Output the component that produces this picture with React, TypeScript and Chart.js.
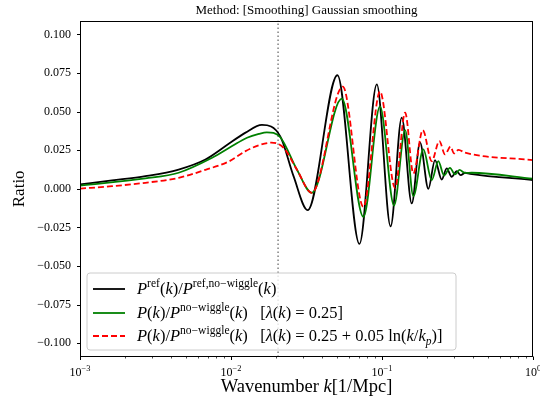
import React, { useEffect, useRef } from 'react';
import { Chart, registerables } from 'chart.js';

Chart.register(...registerables);

// ---- data ----
const refK = [0.001, 0.00163, 0.00271, 0.0045, 0.00677, 0.0092, 0.01248, 0.01603, 0.0212, 0.02595, 0.0322, 0.0507, 0.0709, 0.0924, 0.114, 0.1352, 0.1574, 0.1786, 0.2028, 0.2244, 0.2485, 0.2683, 0.2894, 0.3125, 0.332, 0.355, 0.383, 1];
const refRatio = [0.0028, 0.0054, 0.0082, 0.0125, 0.019, 0.0277, 0.0364, 0.0414, 0.034, 0.0082, -0.0138, 0.0736, -0.0357, 0.0677, -0.0243, 0.0461, -0.0095, 0.0299, 0.0, 0.0186, 0.006, 0.0132, 0.0078, 0.0114, 0.0088, 0.0104, 0.0097, 0.0057];

const constK = [0.001, 0.00271, 0.0045, 0.0075, 0.01017, 0.01277, 0.0153, 0.01726, 0.0212, 0.0273, 0.0343, 0.0542, 0.0753, 0.097, 0.1202, 0.1423, 0.1613, 0.1878, 0.2135, 0.236, 0.2574, 0.282, 0.3043, 0.326, 0.355, 0.3926, 1];
const constRatio = [0.0021, 0.0067, 0.0104, 0.0201, 0.0277, 0.0331, 0.0356, 0.0366, 0.0334, 0.0125, -0.0026, 0.0584, -0.0182, 0.0532, -0.0108, 0.038, -0.0048, 0.0255, 0.0056, 0.0179, 0.0086, 0.0136, 0.0093, 0.0122, 0.0103, 0.0104, 0.0065];

const runK = [0.001, 0.00163, 0.00271, 0.0045, 0.00677, 0.00967, 0.01248, 0.0153, 0.01847, 0.0223, 0.0273, 0.0343, 0.055, 0.0753, 0.097, 0.1221, 0.1423, 0.1613, 0.1862, 0.2135, 0.2397, 0.2614, 0.2842, 0.3, 0.321, 0.355, 1];
const runRatio = [0.0001, 0.0017, 0.0039, 0.0071, 0.0123, 0.0177, 0.0244, 0.0282, 0.0299, 0.0266, 0.0125, -0.0026, 0.0662, -0.0117, 0.063, 0.0006, 0.0494, 0.0099, 0.038, 0.0179, 0.0309, 0.0223, 0.0273, 0.0229, 0.0252, 0.0234, 0.0186];

const pivotK = 0.0205;
const xLimits = [0.001, 1];
const yLimits = [-0.109, 0.109];
const yTicks = [-0.1, -0.075, -0.05, -0.025, 0, 0.025, 0.05, 0.075, 0.1];
const xMajorTicks = [0.001, 0.01, 0.1, 1];
const xTickExponents = ['\u22123', '\u22122', '\u22121', '0'];
const titleText = 'Method: [Smoothing] Gaussian smoothing';

const FONT = '"Liberation Serif", "DejaVu Serif", serif';

type Seg = [string, string];

const legendRows: { color: string; dash: number[]; segs: Seg[] }[] = [
  {
    color: '#000000', dash: [],
    segs: [['P', 'i'], ['ref', 'sup'], ['(', 'r'], ['k', 'i'], [')/', 'r'], ['P', 'i'], ['ref,no\u2212wiggle', 'sup'], ['(', 'r'], ['k', 'i'], [')', 'r']],
  },
  {
    color: '#008000', dash: [],
    segs: [['P', 'i'], ['(', 'r'], ['k', 'i'], [')/', 'r'], ['P', 'i'], ['no\u2212wiggle', 'sup'], ['(', 'r'], ['k', 'i'], [')', 'r'], ['   [', 'r'], ['\u03bb', 'i'], ['(', 'r'], ['k', 'i'], [') = 0.25]', 'r']],
  },
  {
    color: '#ff0000', dash: [6, 3],
    segs: [['P', 'i'], ['(', 'r'], ['k', 'i'], [')/', 'r'], ['P', 'i'], ['no\u2212wiggle', 'sup'], ['(', 'r'], ['k', 'i'], [')', 'r'], ['   [', 'r'], ['\u03bb', 'i'], ['(', 'r'], ['k', 'i'], [') = 0.25 + 0.05 ln(', 'r'], ['k', 'i'], ['/', 'r'], ['k', 'i'], ['p', 'subi'], [')]', 'r']],
  },
];

function drawRich(ctx: CanvasRenderingContext2D, segs: Seg[], x: number, y: number, size: number, measureOnly = false): number {
  let cx = x;
  for (const [t, s] of segs) {
    const italic = s === 'i' || s === 'supi' || s === 'subi';
    const small = s.startsWith('sup') || s.startsWith('sub');
    const fs = small ? size * 0.7 : size;
    ctx.font = `${italic ? 'italic ' : ''}${fs}px ${FONT}`;
    const dy = s.startsWith('sup') ? -size * 0.4 : s.startsWith('sub') ? size * 0.22 : 0;
    if (!measureOnly) ctx.fillText(t, cx, y + dy);
    cx += ctx.measureText(t).width;
  }
  return cx - x;
}

const decorPlugin = {
  id: 'decor',
  afterDraw(chart: any) {
    const { ctx, chartArea: a, scales } = chart;
    const xs = scales.x;
    const ys = scales.y;
    ctx.save();
    ctx.strokeStyle = '#000';
    ctx.fillStyle = '#000';
    ctx.lineWidth = 1;
    ctx.setLineDash([]);
    const L = Math.round(a.left) + 0.5;
    const R = Math.round(a.right) - 0.5;
    const T = Math.round(a.top) + 0.5;
    const B = Math.round(a.bottom) - 0.5;
    ctx.strokeRect(L, T, R - L, B - T);
    ctx.beginPath();
    for (const v of yTicks) {
      const py = Math.round(ys.getPixelForValue(v)) + 0.5;
      ctx.moveTo(L - 3.5, py);
      ctx.lineTo(L, py);
    }
    for (const v of xMajorTicks) {
      const px = Math.round(xs.getPixelForValue(v)) + 0.5;
      ctx.moveTo(px, B);
      ctx.lineTo(px, B + 3.5);
    }
    ctx.stroke();
    ctx.beginPath();
    ctx.lineWidth = 0.7;
    for (let d = 0; d < xMajorTicks.length - 1; d++) {
      for (let m = 2; m <= 9; m++) {
        const px = Math.round(xs.getPixelForValue(xMajorTicks[d] * m)) + 0.5;
        ctx.moveTo(px, B);
        ctx.lineTo(px, B + 2);
      }
    }
    ctx.stroke();

    // x tick labels with superscript exponents
    ctx.textBaseline = 'alphabetic';
    ctx.textAlign = 'left';
    xMajorTicks.forEach((v, i) => {
      const px = xs.getPixelForValue(v);
      const segs: Seg[] = [['10', 'r'], [xTickExponents[i], 'sup']];
      const w = drawRich(ctx, segs, 0, 0, 12, true);
      drawRich(ctx, segs, px - w / 2, B + 19, 12);
    });

    // axis titles
    const xt: Seg[] = [['Wavenumber ', 'r'], ['k', 'i'], ['[1/Mpc]', 'r']];
    const wx = drawRich(ctx, xt, 0, 0, 18.5, true);
    drawRich(ctx, xt, (a.left + a.right) / 2 - wx / 2, B + 35, 18.5);

    ctx.save();
    ctx.translate(20, (a.top + a.bottom) / 2);
    ctx.rotate(-Math.PI / 2);
    ctx.textAlign = 'center';
    ctx.textBaseline = 'middle';
    ctx.font = `17px ${FONT}`;
    ctx.fillText('Ratio', 0, 0);
    ctx.restore();

    // legend
    const lx = a.left + 7;
    const lw = 369;
    const lh = 77;
    const ly = a.bottom - 7 - lh;
    ctx.beginPath();
    const r = 3;
    ctx.moveTo(lx + r, ly);
    ctx.lineTo(lx + lw - r, ly);
    ctx.quadraticCurveTo(lx + lw, ly, lx + lw, ly + r);
    ctx.lineTo(lx + lw, ly + lh - r);
    ctx.quadraticCurveTo(lx + lw, ly + lh, lx + lw - r, ly + lh);
    ctx.lineTo(lx + r, ly + lh);
    ctx.quadraticCurveTo(lx, ly + lh, lx, ly + lh - r);
    ctx.lineTo(lx, ly + r);
    ctx.quadraticCurveTo(lx, ly, lx + r, ly);
    ctx.closePath();
    ctx.fillStyle = 'rgba(255,255,255,0.8)';
    ctx.fill();
    ctx.strokeStyle = '#cccccc';
    ctx.lineWidth = 1;
    ctx.stroke();

    const rowYs = [ly + 16, ly + 40, ly + 63];
    legendRows.forEach((row, i) => {
      const yy = rowYs[i];
      ctx.beginPath();
      ctx.strokeStyle = row.color;
      ctx.lineWidth = 1.8;
      ctx.setLineDash(row.dash);
      ctx.moveTo(lx + 6, yy);
      ctx.lineTo(lx + 38, yy);
      ctx.stroke();
      ctx.setLineDash([]);
      ctx.fillStyle = '#000';
      drawRich(ctx, row.segs, lx + 50, yy + 5, 16.5);
    });
    ctx.restore();
  },
};

export default function App() {
  const canvasRef = useRef<HTMLCanvasElement | null>(null);

  useEffect(() => {
    document.body.style.margin = '0';
    const canvas = canvasRef.current;
    if (!canvas) return;
    const toPts = (xs: number[], ys: number[]) => xs.map((x, i) => ({ x, y: ys[i] }));
    const chart = new Chart(canvas, {
      type: 'line',
      data: {
        datasets: [
          {
            data: toPts(runK, runRatio),
            borderColor: '#ff0000',
            borderWidth: 1.8,
            borderDash: [6, 3],
            pointRadius: 0,
            cubicInterpolationMode: 'monotone',
            fill: false,
            order: 1,
          },
          {
            data: toPts(constK, constRatio),
            borderColor: '#008000',
            borderWidth: 1.8,
            pointRadius: 0,
            cubicInterpolationMode: 'monotone',
            fill: false,
            order: 2,
          },
          {
            data: toPts(refK, refRatio),
            borderColor: '#000000',
            borderWidth: 1.8,
            pointRadius: 0,
            cubicInterpolationMode: 'monotone',
            fill: false,
            order: 3,
          },
          {
            data: [{ x: pivotK, y: yLimits[0] }, { x: pivotK, y: yLimits[1] }],
            borderColor: '#808080',
            borderWidth: 1.5,
            borderDash: [1.5, 2.5],
            pointRadius: 0,
            fill: false,
            order: 4,
          },
        ],
      },
      options: {
        animation: false,
        responsive: false,
        devicePixelRatio: 1,
        layout: { padding: { left: 0, right: 7, top: 0, bottom: 0 } },
        plugins: {
          legend: { display: false },
          tooltip: { enabled: false },
          title: {
            display: true,
            text: titleText,
            fullSize: false,
            color: '#000',
            font: { family: FONT, size: 13, weight: 'normal' },
            padding: { top: 3, bottom: 2 },
          },
        },
        scales: {
          x: {
            type: 'logarithmic',
            min: xLimits[0],
            max: xLimits[1],
            grid: { display: false, drawTicks: false },
            border: { display: false },
            ticks: { display: false },
            afterFit: (s: any) => {
              s.height = 46;
              s.paddingLeft = 0;
              s.paddingRight = 0;
            },
          },
          y: {
            type: 'linear',
            min: yLimits[0],
            max: yLimits[1],
            grid: { display: false, drawTicks: false },
            border: { display: false },
            afterBuildTicks: (s: any) => {
              s.ticks = yTicks.map((v) => ({ value: v }));
            },
            ticks: {
              padding: 9,
              color: '#000',
              font: { family: FONT, size: 12 },
              callback: (v: any) => Number(v).toFixed(3).replace('-', '\u2212'),
            },
            afterFit: (s: any) => {
              s.width = 80;
              s.paddingTop = 0;
              s.paddingBottom = 0;
            },
          },
        },
      },
      plugins: [decorPlugin],
    } as any);
    return () => chart.destroy();
  }, []);

  return (
    <div style={{ position: 'absolute', left: 0, top: 0, width: 540, height: 403 }}>
      <canvas ref={canvasRef} width={540} height={403} />
    </div>
  );
}
